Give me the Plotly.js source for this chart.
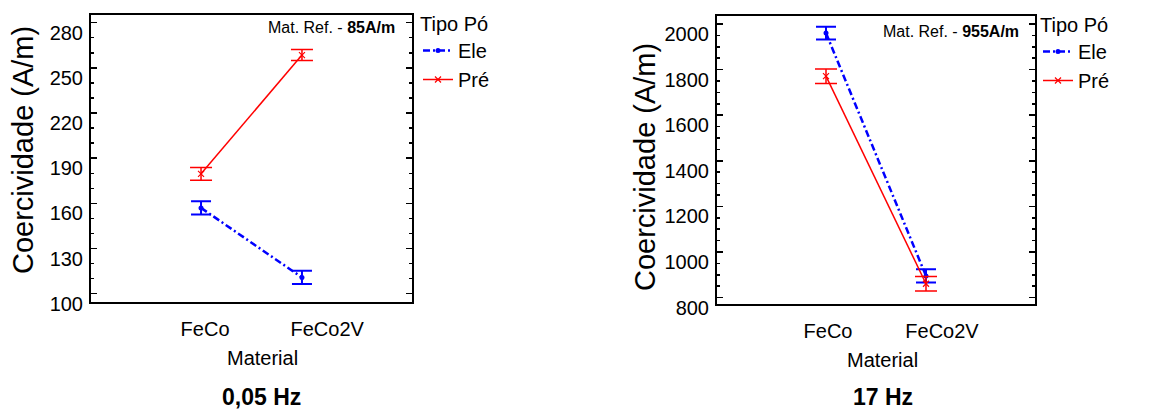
<!DOCTYPE html>
<html>
<head>
<meta charset="utf-8">
<script src="https://cdn.plot.ly/plotly-3.0.1.min.js"></script>
<style>html,body{margin:0;padding:0;background:#fff;}#chart{width:1170px;height:410px;}</style>
</head>
<body>
<div id="chart"></div>
<script>
// ---- data ----
const categories = ['FeCo', 'FeCo2V'];
// 0,05 Hz
const lowEle = [157.0, 110.8];
const lowEleErr = [4.4, 4.4];
const lowPre = [179.6, 258.5];
const lowPreErr = [4.2, 3.7];
// 17 Hz
const highEle = [1960, 895];
const highEleErr = [28, 29];
const highPre = [1771, 861];
const highPreErr = [32, 32];
const seriesNames = ['Ele', 'Pré'];
const panelTitles = ['0,05 Hz', '17 Hz'];
const refValues = ['85A/m', '955A/m'];
const yTicksLow = [100, 130, 160, 190, 220, 250, 280];
const yTicksHigh = [800, 1000, 1200, 1400, 1600, 1800, 2000];

// ---- layout helpers ----
const W = 1170, H = 410;
const px = v => v / W;
const py = v => 1 - v / H;
const FONT = 'Liberation Sans, Arial, sans-serif';
const BLUE = '#0000ff', RED = '#ff0000';
const xi = categories.map((c, i) => i);

function eleTrace(y, err, xa, ya, lg, show) {
  return {
    type: 'scatter', mode: 'lines+markers', x: xi, y: y, name: seriesNames[0],
    xaxis: xa, yaxis: ya, legend: lg, showlegend: show,
    line: {color: BLUE, width: 2.5, dash: '7px,3px,2px,3px'},
    marker: {color: BLUE, size: 5, symbol: 'circle'},
    error_y: {type: 'data', array: err, visible: true, color: BLUE, thickness: 2, width: 10}
  };
}
function preTrace(y, err, xa, ya, lg, show) {
  return {
    type: 'scatter', mode: 'lines+markers', x: xi, y: y, name: seriesNames[1],
    xaxis: xa, yaxis: ya, legend: lg, showlegend: show,
    line: {color: RED, width: 1.5},
    marker: {color: RED, size: 6, symbol: 'x-thin', line: {color: RED, width: 1.2}},
    error_y: {type: 'data', array: err, visible: true, color: RED, thickness: 1.5, width: 11}
  };
}

const data = [
  eleTrace(lowEle, lowEleErr, 'x', 'y', 'legend', true),
  preTrace(lowPre, lowPreErr, 'x', 'y', 'legend', true),
  eleTrace(highEle, highEleErr, 'x2', 'y2', 'legend2', true),
  preTrace(highPre, highPreErr, 'x2', 'y2', 'legend2', true)
];

function yAxis(domain, range, ticks, minorStep) {
  return {
    domain: domain, range: range, tickvals: ticks, ticktext: ticks.map(String),
    showline: true, linewidth: 2, linecolor: '#000', mirror: 'ticks',
    ticks: 'inside', ticklen: 6, tickwidth: 1.5, tickcolor: '#000',
    minor: {ticks: 'inside', ticklen: 3, dtick: minorStep, tickcolor: '#000', tickwidth: 1.5, showgrid: false},
    showgrid: false, zeroline: false,
    tickfont: {family: FONT, size: 20, color: '#000'},
    ticklabelshift: 10, ticklabelstandoff: 2
  };
}
function xAxis(domain, labelPos) {
  return {
    domain: domain, range: [-1.09, 2.09], tickvals: labelPos, ticktext: categories,
    showline: true, linewidth: 2, linecolor: '#000', mirror: true,
    ticks: '', showgrid: false, zeroline: false,
    tickfont: {family: FONT, size: 20, color: '#000'},
    ticklabelstandoff: 8
  };
}

const ann = [];
function txt(text, x, y, size, opts) {
  ann.push(Object.assign({
    text: text, x: px(x), y: py(y), xref: 'paper', yref: 'paper',
    showarrow: false, xanchor: 'center', yanchor: 'middle',
    font: {family: FONT, size: size, color: '#000'}
  }, opts || {}));
}
txt('Coercividade (A/m)', 23, 150, 29, {textangle: -90});
txt('Coercividade (A/m)', 645, 167, 29, {textangle: -90});
txt('Material', 262, 358, 20);
txt('Material', 882, 360, 20);
txt('<b>' + panelTitles[0] + '</b>', 261, 397, 23);
txt('<b>' + panelTitles[1] + '</b>', 883, 397, 23);
txt('Mat. Ref. - <b>' + refValues[0] + '</b>', 397, 27, 16, {xanchor: 'right'});
txt('Mat. Ref. - <b>' + refValues[1] + '</b>', 1021, 32, 16, {xanchor: 'right'});

function legendCfg(x, y) {
  return {
    x: px(x), y: py(y), xanchor: 'left', yanchor: 'top',
    bgcolor: 'rgba(0,0,0,0)', borderwidth: 0,
    title: {text: 'Tipo Pó', font: {family: FONT, size: 20, color: '#000'}},
    font: {family: FONT, size: 20, color: '#000'},
    tracegroupgap: 0, itemwidth: 30
  };
}

const layout = {
  width: W, height: H, margin: {l: 0, r: 0, t: 0, b: 0},
  paper_bgcolor: '#fff', plot_bgcolor: '#fff', showlegend: true,
  xaxis: xAxis([px(91), px(412)], [0.04, 1.25]),
  yaxis: yAxis([py(302), py(15)], [94.5, 285.1], yTicksLow, 10),
  xaxis2: Object.assign(xAxis([px(717), px(1035)], [0.02, 1.16]), {anchor: 'y2'}),
  yaxis2: Object.assign(yAxis([py(304), py(16)], [772, 2035], yTicksHigh, 50), {anchor: 'x2'}),
  legend: legendCfg(418, 5),
  legend2: legendCfg(1038, 6),
  annotations: ann
};
layout.xaxis.anchor = 'y';
layout.yaxis.anchor = 'x';

Plotly.newPlot('chart', data, layout, {displayModeBar: false, staticPlot: true});
</script>
</body>
</html>
